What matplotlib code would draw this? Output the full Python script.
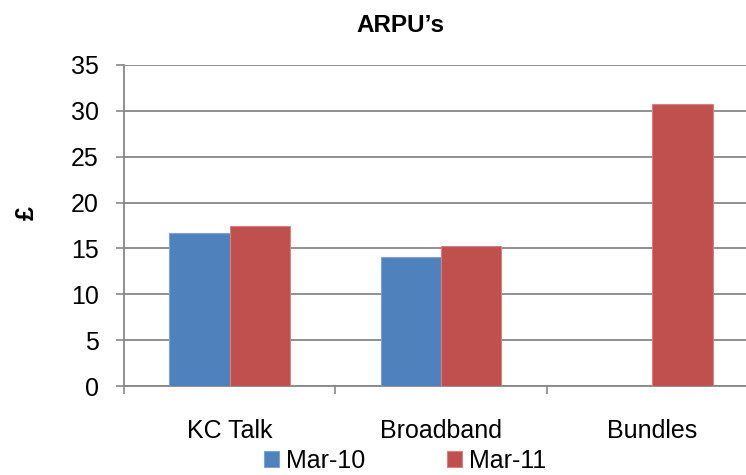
import matplotlib
matplotlib.use("Agg")
import matplotlib.pyplot as plt
import numpy as np

plt.rcParams['font.family'] = ['Liberation Sans', 'DejaVu Sans']

categories = ["KC Talk", "Broadband", "Bundles"]
series_names = ["Mar-10", "Mar-11"]
mar10 = [16.7, 14.1, np.nan]
mar11 = [17.5, 15.3, 30.8]
yticks = [0, 5, 10, 15, 20, 25, 30, 35]
colors = ["#4F81BD", "#C0504D"]
edgecolors = ["#7FA3D1", "#D7817E"]

W, H = 746, 475
fig = plt.figure(figsize=(W / 100, H / 100), dpi=100)
ax = fig.add_axes([124 / W, (H - 386) / H, 634 / W, 321 / H])

x = np.arange(len(categories))
bw = 0.286
b1 = ax.bar(x - bw / 2, mar10, bw, color=colors[0], edgecolor=edgecolors[0], linewidth=0.8, label=series_names[0], zorder=3)
b2 = ax.bar(x + bw / 2, mar11, bw, color=colors[1], edgecolor=edgecolors[1], linewidth=0.8, label=series_names[1], zorder=3)

ax.set_xlim(-0.5, len(categories) - 0.5)
ax.set_ylim(0, 35)
ax.set_yticks(yticks)
ax.set_yticklabels([str(t) for t in yticks], fontsize=18)
ax.set_xticks(x)
ax.set_xticklabels(categories, fontsize=18)
ax.tick_params(axis='x', length=0, pad=24)
# category boundary ticks
ax.set_xticks(np.arange(-0.5, len(categories), 1.0), minor=True)
ax.tick_params(axis='x', which='minor', length=6, width=1.2, color='#878787', direction='out')
ax.tick_params(axis='y', length=6, width=1.2, color='#878787', direction='out', pad=12)

ax.yaxis.grid(True, color='#878787', linewidth=1.3, zorder=0)
ax.set_axisbelow(True)
for s in ['top', 'right']:
    ax.spines[s].set_visible(False)
for s in ['left', 'bottom']:
    ax.spines[s].set_color('#878787')
    ax.spines[s].set_linewidth(1.3)

fig.text(400 / W, 1 - 25 / H, "ARPU\u2019s", ha='center', va='center', fontsize=17.5, fontweight='bold')
fig.text(27 / W, 1 - 213 / H, "£", ha='center', va='center', rotation=90, fontsize=18, fontweight='bold')

fig.legend(handles=[b1, b2], labels=series_names, loc='center', bbox_to_anchor=(405 / W, 1 - 461 / H),
           ncol=2, frameon=False, fontsize=18, handlelength=0.6, handleheight=0.6, handletextpad=0.28,
           columnspacing=3.3, borderpad=0)

fig.savefig("out.png", dpi=100)
